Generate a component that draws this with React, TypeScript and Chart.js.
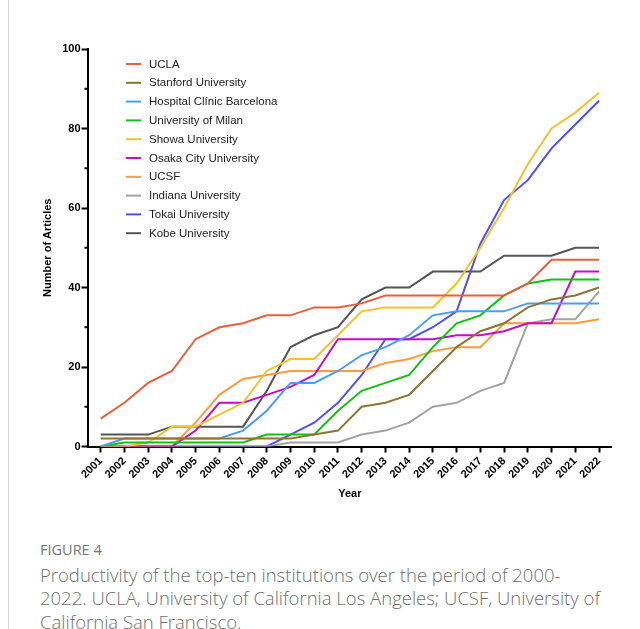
import React, { useEffect, useRef } from 'react';
import { Chart, registerables } from 'chart.js';

Chart.register(...registerables);

const years = [2001, 2002, 2003, 2004, 2005, 2006, 2007, 2008, 2009, 2010, 2011, 2012, 2013, 2014, 2015, 2016, 2017, 2018, 2019, 2020, 2021, 2022];

const ucla = [7, 11, 16, 19, 27, 30, 31, 33, 33, 35, 35, 36, 38, 38, 38, 38, 38, 38, 41, 47, 47, 47];
const stanford = [2, 2, 2, 2, 2, 2, 2, 2, 2, 3, 4, 10, 11, 13, 19, 25, 29, 31, 35, 37, 38, 40];
const clinicBarcelona = [0, 2, 2, 2, 2, 2, 4, 9, 16, 16, 19, 23, 25, 28, 33, 34, 34, 34, 36, 36, 36, 36];
const milan = [0, 1, 1, 1, 1, 1, 1, 3, 3, 3, 9, 14, 16, 18, 25, 31, 33, 38, 41, 42, 42, 42];
const showa = [0, 0, 1, 5, 5, 8, 11, 19, 22, 22, 28, 34, 35, 35, 35, 41, 50, 60, 71, 80, 84, 89];
const osakaCity = [0, 0, 0, 0, 4, 11, 11, 13, 15, 18, 27, 27, 27, 27, 27, 28, 28, 29, 31, 31, 44, 44];
const ucsf = [0, 0, 0, 0, 6, 13, 17, 18, 19, 19, 19, 19, 21, 22, 24, 25, 25, 31, 31, 31, 31, 32];
const indiana = [0, 0, 0, 0, 0, 0, 0, 0, 1, 1, 1, 3, 4, 6, 10, 11, 14, 16, 31, 32, 32, 39];
const tokai = [0, 0, 0, 0, 0, 0, 0, 0, 3, 6, 11, 18, 27, 27, 30, 34, 51, 62, 67, 75, 81, 87];
const kobe = [3, 3, 3, 5, 5, 5, 5, 14, 25, 28, 30, 37, 40, 40, 44, 44, 44, 48, 48, 48, 50, 50];

const seriesNames = [
  'UCLA',
  'Stanford University',
  'Hospital Clínic Barcelona',
  'University of Milan',
  'Showa University',
  'Osaka City University',
  'UCSF',
  'Indiana University',
  'Tokai University',
  'Kobe University',
];

const seriesColors = [
  '#E6603F',
  '#8A7636',
  '#4C9EF2',
  '#14C014',
  '#F2C22E',
  '#C20EC4',
  '#FB9B42',
  '#A3A3A3',
  '#5151F2',
  '#545454',
];

const yMajorTicks = [0, 20, 40, 60, 80, 100];
const yMinorTicks = [10, 30, 50, 70, 90];

const xAxisTitle = 'Year';
const yAxisTitle = 'Number of Articles';

const FONT = '"Liberation Sans", Arial, Helvetica, sans-serif';

export default function App() {
  const canvasRef = useRef<HTMLCanvasElement>(null);

  useEffect(() => {
    const series = [ucla, stanford, clinicBarcelona, milan, showa, osakaCity, ucsf, indiana, tokai, kobe];
    const datasets = series.map((values, i) => ({
      label: seriesNames[i],
      data: values.map((v, j) => ({ x: years[j], y: v })),
      borderColor: seriesColors[i],
      backgroundColor: seriesColors[i],
      borderWidth: 2,
      pointRadius: 0,
      pointHoverRadius: 0,
      fill: false,
      tension: 0,
    }));

    const legendPlugin = {
      id: 'insideLegend',
      afterDatasetsDraw(chart: any) {
        const ctx = chart.ctx;
        ctx.save();
        chart.data.datasets.forEach((ds: any, i: number) => {
          const y = 64 + i * 18.8;
          ctx.strokeStyle = ds.borderColor;
          ctx.lineWidth = 2;
          ctx.beginPath();
          ctx.moveTo(126, y);
          ctx.lineTo(141, y);
          ctx.stroke();
          ctx.fillStyle = '#222222';
          ctx.font = '11.5px ' + FONT;
          ctx.textAlign = 'left';
          ctx.textBaseline = 'middle';
          ctx.fillText(ds.label, 149, y + 0.5);
        });
        ctx.restore();
      },
    };

    const minorTickPlugin = {
      id: 'minorTicks',
      afterDraw(chart: any) {
        const ctx = chart.ctx;
        const ys = chart.scales.y;
        const left = chart.chartArea.left;
        ctx.save();
        ctx.strokeStyle = '#000';
        ctx.lineWidth = 2;
        yMinorTicks.forEach((v) => {
          const py = ys.getPixelForValue(v);
          ctx.beginPath();
          ctx.moveTo(left - 3.5, py);
          ctx.lineTo(left, py);
          ctx.stroke();
        });
        ctx.restore();
      },
    };

    const chart = new Chart(canvasRef.current as HTMLCanvasElement, {
      type: 'line',
      data: { datasets: datasets as any },
      options: {
        responsive: false,
        animation: false,
        devicePixelRatio: 1,
        layout: { padding: { left: 0, top: 49, right: 28.3, bottom: 0 } },
        plugins: {
          legend: { display: false },
          tooltip: { enabled: false },
        },
        scales: {
          x: {
            type: 'linear',
            min: 2000.465,
            max: 2022.535,
            afterBuildTicks: (scale: any) => {
              scale.ticks = years.map((v) => ({ value: v }));
            },
            afterFit: (scale: any) => {
              scale.height = 63.5;
            },
            ticks: {
              callback: (v: any) => String(v),
              minRotation: 45,
              maxRotation: 45,
              autoSkip: false,
              color: '#000',
              padding: 2,
              font: { family: FONT, size: 11, weight: 'bold' },
            },
            grid: {
              display: true,
              drawOnChartArea: false,
              drawTicks: true,
              tickLength: 6,
              tickColor: '#000',
              tickWidth: 2,
            },
            border: { display: true, color: '#000', width: 2 },
            title: {
              display: true,
              text: xAxisTitle,
              color: '#000',
              font: { family: FONT, size: 11, weight: 'bold' },
              padding: { top: 0, bottom: 9.4 },
            },
          },
          y: {
            type: 'linear',
            min: 0,
            max: 100,
            afterBuildTicks: (scale: any) => {
              scale.ticks = yMajorTicks.map((v) => ({ value: v }));
            },
            afterFit: (scale: any) => {
              scale.width = 88;
            },
            ticks: {
              callback: (v: any) => String(v),
              color: '#000',
              padding: 1,
              font: { family: FONT, size: 11, weight: 'bold' },
            },
            grid: {
              display: true,
              drawOnChartArea: false,
              drawTicks: true,
              tickLength: 6.5,
              tickColor: '#000',
              tickWidth: 2,
            },
            border: { display: true, color: '#000', width: 2 },
            title: {
              display: true,
              text: yAxisTitle,
              color: '#000',
              font: { family: FONT, size: 11, weight: 'bold' },
              padding: { top: 41.5, bottom: 0 },
            },
          },
        },
      },
      plugins: [legendPlugin, minorTickPlugin],
    } as any);

    return () => chart.destroy();
  }, []);

  return (
    <div style={{ position: 'absolute', left: 0, top: 0, width: 640, height: 629, background: '#fff', overflow: 'hidden' }}>
      <div style={{ position: 'absolute', left: 8, top: 0, width: 1, height: 629, background: '#d4d4d4' }} />
      <canvas ref={canvasRef} width={640} height={510} style={{ position: 'absolute', left: 0, top: 0, width: 640, height: 510 }} />
      <div
        style={{
          position: 'absolute',
          left: 40,
          top: 540.5,
          fontFamily: '"Open Sans", sans-serif',
          fontSize: 14.5,
          lineHeight: '18px',
          color: '#767676',
          whiteSpace: 'nowrap',
        }}
      >
        FIGURE 4
      </div>
      <div
        style={{
          position: 'absolute',
          left: 40,
          top: 562.5,
          fontFamily: '"Open Sans", sans-serif',
          fontSize: 18.5,
          fontWeight: 300,
          lineHeight: '23.5px',
          color: '#707070',
          whiteSpace: 'nowrap',
        }}
      >
        Productivity of the top-ten institutions over the period of 2000-
        <br />
        2022. UCLA, University of California Los Angeles; UCSF, University of
        <br />
        California San Francisco.
      </div>
    </div>
  );
}
